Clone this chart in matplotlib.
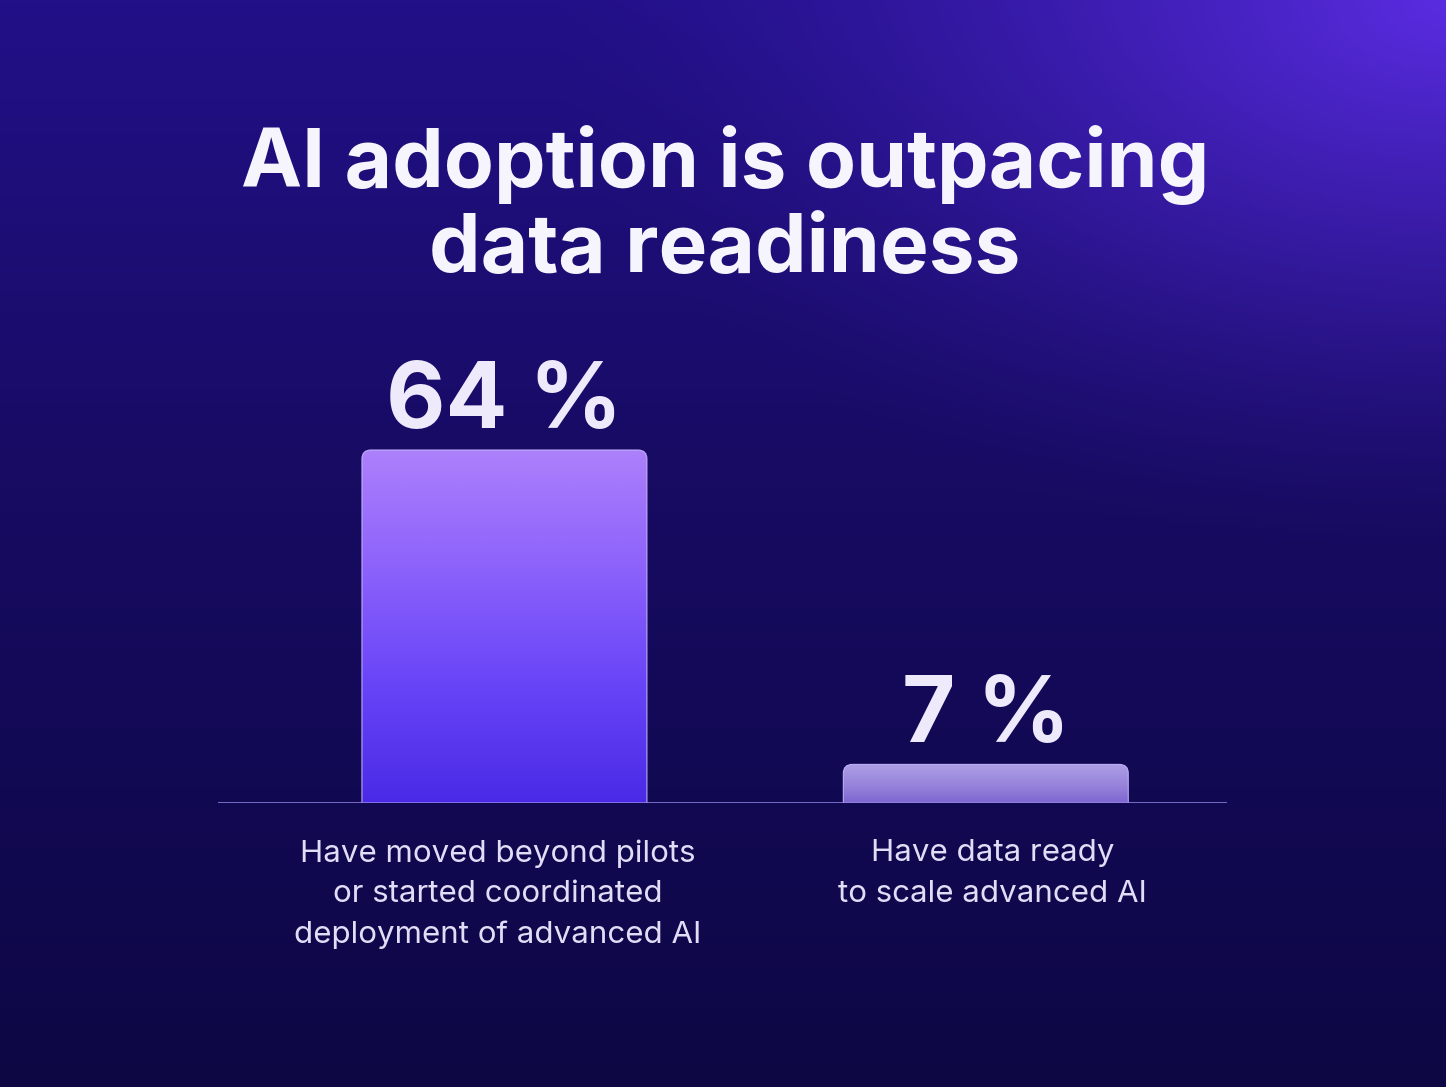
import matplotlib.pyplot as plt
import numpy as np
from matplotlib.patches import FancyBboxPatch
from matplotlib.colors import LinearSegmentedColormap

# data
categories = [
    "Have moved beyond pilots\nor started coordinated\ndeployment of advanced AI",
    "Have data ready\nto scale advanced AI",
]
values = [64, 7]
value_labels = ["64 %", "7 %"]
title = "AI adoption is outpacing\ndata readiness"

W, H = 1446, 1087
fig = plt.figure(figsize=(W / 100, H / 100), dpi=100)

# background: vertical gradient plus a glow in the top-right corner
bg = fig.add_axes([0, 0, 1, 1])
bg.set_axis_off()
yy, xx = np.mgrid[0:1:300j, 0:1:400j]  # yy=0 top
stops = np.array([0, 0.45, 1])
cols = np.array([[0x22, 0x10, 0x88], [0x17, 0x0b, 0x62], [0x0d, 0x07, 0x44]]) / 255
base = np.stack([np.interp(yy, stops, cols[:, c]) for c in range(3)], axis=-1)
dx = (1 - xx) * W
dy = yy * H * 1.6
r = np.sqrt(dx ** 2 + dy ** 2) / 900
g = np.clip(1 - r, 0, 1) ** 1.5
bright = np.array([0x5a, 0x2c, 0xe0]) / 255
img = base + (bright - base) * g[..., None]
bg.imshow(img, extent=[0, 1, 0, 1], aspect="auto", origin="upper")
bg.set_xlim(0, 1)
bg.set_ylim(0, 1)

# bar axes, placed so the baseline sits where the reference has it
base_px = 803
px_per_unit = (803 - 450) / 64
ax_h_units = 80
ax = fig.add_axes([218 / W, (H - base_px) / H, 1009 / W, ax_h_units * px_per_unit / H])
ax.set_facecolor("none")
ax.set_xlim(-0.595, 1.501)
ax.set_ylim(0, ax_h_units)
ax.set_axis_off()

x = np.arange(len(values))
width = 0.592
x_units_per_px = 2.096 / 1009
y_units_per_px = 1 / px_per_unit
rad_px = 9

bar_cmaps = [
    LinearSegmentedColormap.from_list("b1", ["#4a2ae6", "#6844f7", "#8c62fb", "#ad80fb"]),
    LinearSegmentedColormap.from_list("b2", ["#7d66d0", "#9a86dc", "#ad9fe6"]),
]

for i, (xi, v) in enumerate(zip(x, values)):
    patch = FancyBboxPatch(
        (xi - width / 2, -5), width, v + 5,
        boxstyle=f"round,pad=0,rounding_size={rad_px * x_units_per_px}",
        mutation_aspect=y_units_per_px / x_units_per_px,
        facecolor="none", edgecolor="#c9b6ff", linewidth=0.8, alpha=0.9, zorder=3,
    )
    ax.add_patch(patch)
    grad = np.linspace(0, 1, 256)[:, None] * np.ones((1, 50))
    im = ax.imshow(grad, cmap=bar_cmaps[i], origin="lower", aspect="auto",
                   extent=[xi - width / 2, xi + width / 2, 0, v], zorder=2)
    im.set_clip_path(patch)
    ax.annotate(value_labels[i], (xi, v), xytext=(0, 16), textcoords="offset points",
                ha="center", va="baseline", fontsize=66, fontweight="bold",
                family="Inter", color="#eeeafc", zorder=4)

ax.axhline(0, color="#9787ea", linewidth=1.8, zorder=4)
label_dx = [-5, 5]
for xi, lab, ddx in zip(x, categories, label_dx):
    ax.annotate(lab, (xi, 0), xytext=(ddx, -26), textcoords="offset points",
                ha="center", va="top", fontsize=22.5, family="Inter",
                color="#e2ddf7", linespacing=1.57)

fig.text(0.5013, (H - 125) / H, title, ha="center", va="top", fontsize=59,
         fontweight="bold", family="Inter", color="#f6f4fd", linespacing=1.14)

fig.savefig("out.png", dpi=100)
